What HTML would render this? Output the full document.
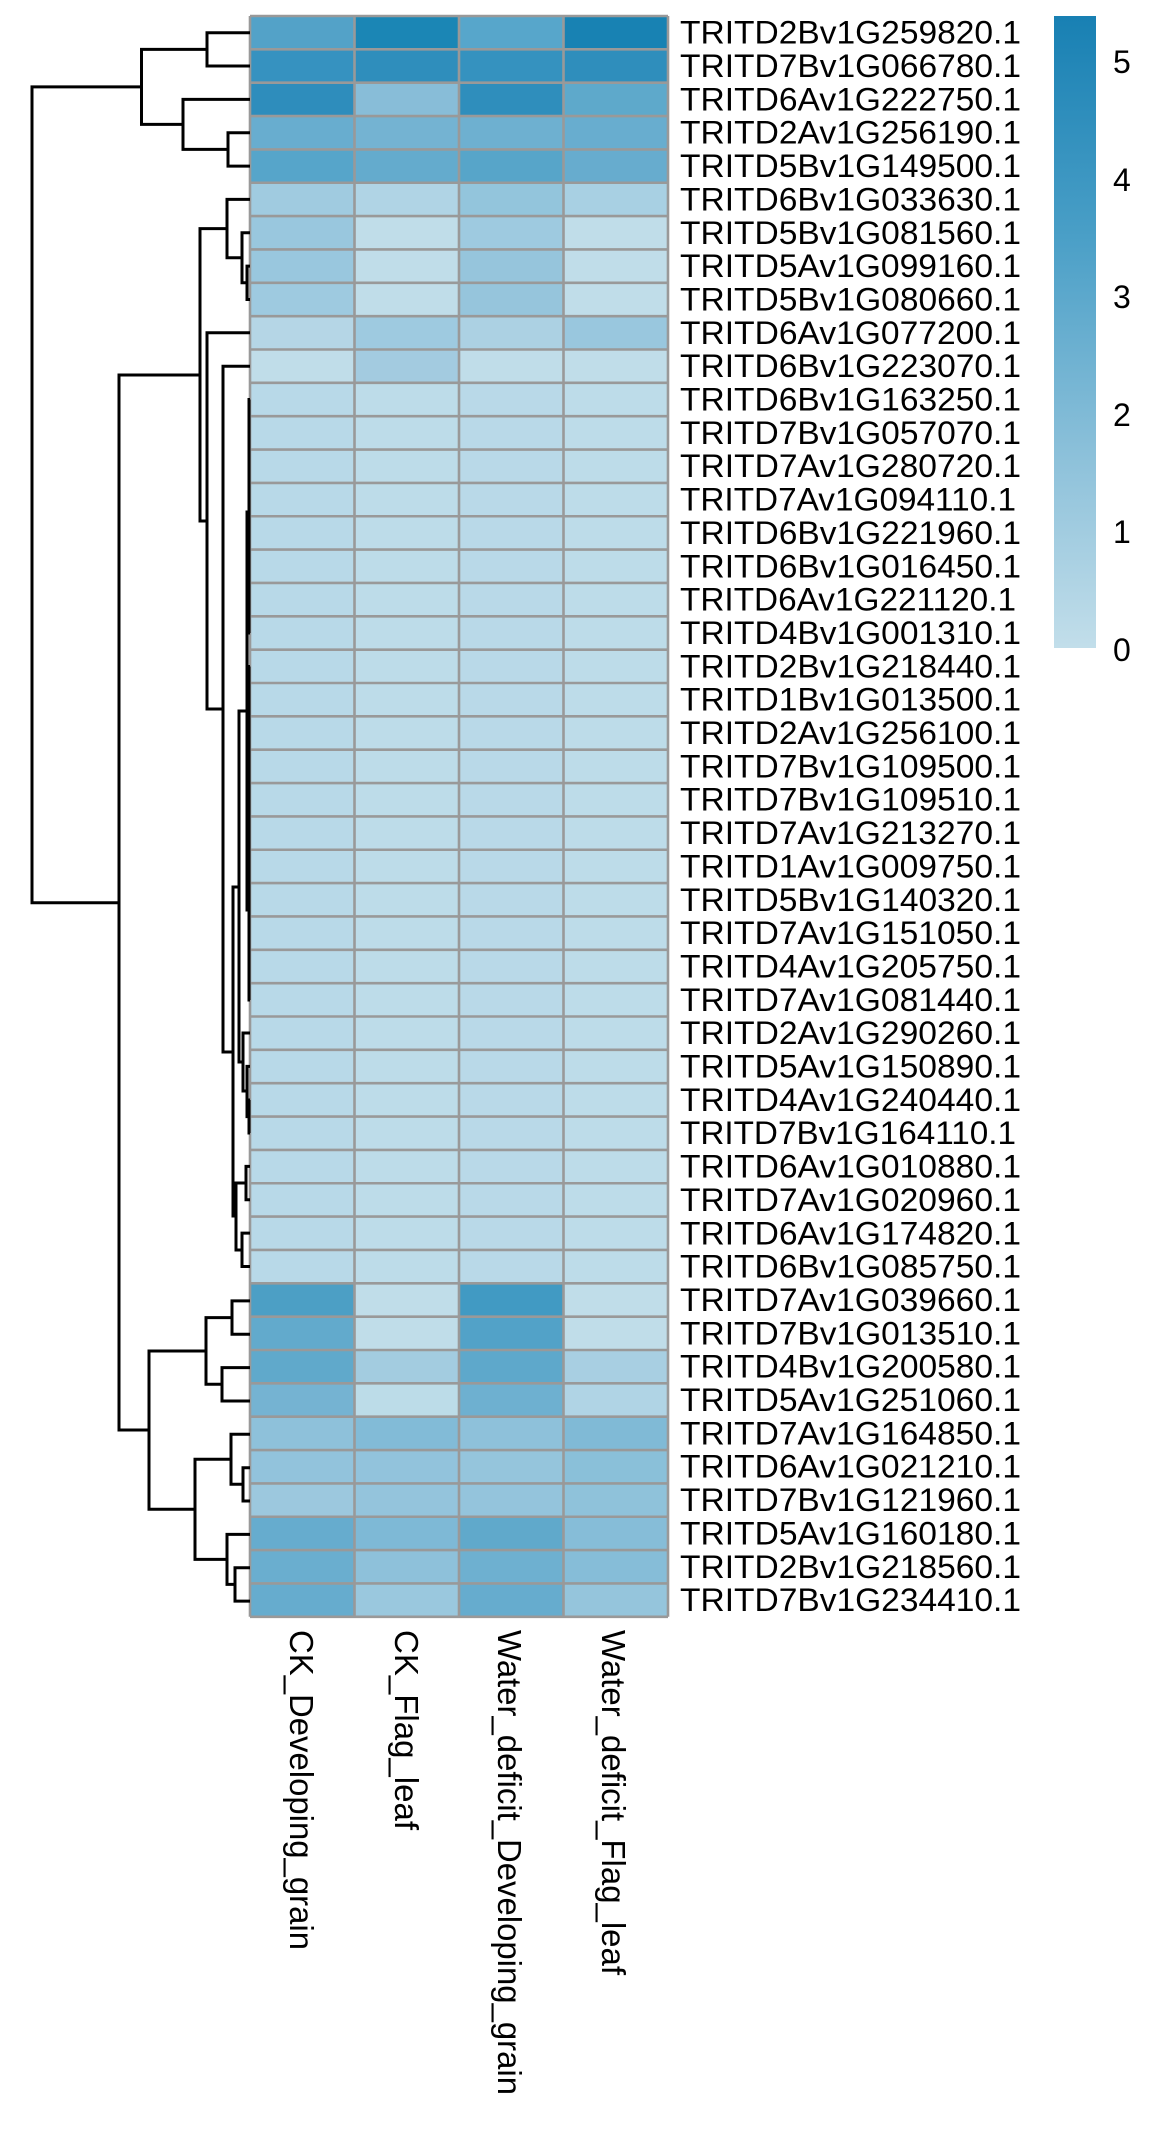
<!DOCTYPE html>
<html><head><meta charset="utf-8"><style>
html,body{margin:0;padding:0;background:#fff;}
svg{display:block;}
text{font-family:"Liberation Sans",Arial,sans-serif;fill:#000;}
</style></head><body>
<svg width="1170" height="2131" viewBox="0 0 1170 2131" xmlns="http://www.w3.org/2000/svg">
<defs>
<linearGradient id="cb" x1="0" y1="0" x2="0" y2="1">
<stop offset="0" stop-color="#1880b3"/>
<stop offset="0.35" stop-color="#4a9fc7"/>
<stop offset="0.7" stop-color="#8dc1da"/>
<stop offset="1" stop-color="#c2deea"/>
</linearGradient>
</defs>
<rect x="250" y="382.85" width="104.5" height="900.45" fill="#b8d9e8"/>
<rect x="354.5" y="382.85" width="104.5" height="900.45" fill="#bddce9"/>
<rect x="459" y="382.85" width="104.5" height="900.45" fill="#b9d9e8"/>
<rect x="563.5" y="382.85" width="104.5" height="900.45" fill="#bddce9"/>
<g>
<rect x="250" y="16" width="104.5" height="33.35" fill="#53a2c8"/><rect x="354.5" y="16" width="104.5" height="33.35" fill="#1b86b5"/><rect x="459" y="16" width="104.5" height="33.35" fill="#57a6cb"/><rect x="563.5" y="16" width="104.5" height="33.35" fill="#1882b3"/>
<rect x="250" y="49.35" width="104.5" height="33.35" fill="#3692c0"/><rect x="354.5" y="49.35" width="104.5" height="33.35" fill="#2f8ebc"/><rect x="459" y="49.35" width="104.5" height="33.35" fill="#3592bf"/><rect x="563.5" y="49.35" width="104.5" height="33.35" fill="#2f8ebc"/>
<rect x="250" y="82.7" width="104.5" height="33.35" fill="#2e8dbc"/><rect x="354.5" y="82.7" width="104.5" height="33.35" fill="#88bdd8"/><rect x="459" y="82.7" width="104.5" height="33.35" fill="#2f8ebc"/><rect x="563.5" y="82.7" width="104.5" height="33.35" fill="#5ea9cb"/>
<rect x="250" y="116.05" width="104.5" height="33.35" fill="#68adcf"/><rect x="354.5" y="116.05" width="104.5" height="33.35" fill="#74b3d2"/><rect x="459" y="116.05" width="104.5" height="33.35" fill="#6eb0d0"/><rect x="563.5" y="116.05" width="104.5" height="33.35" fill="#68adcf"/>
<rect x="250" y="149.4" width="104.5" height="33.35" fill="#56a5ca"/><rect x="354.5" y="149.4" width="104.5" height="33.35" fill="#64abcd"/><rect x="459" y="149.4" width="104.5" height="33.35" fill="#57a5c9"/><rect x="563.5" y="149.4" width="104.5" height="33.35" fill="#67acce"/>
<rect x="250" y="182.75" width="104.5" height="33.35" fill="#a0cbe0"/><rect x="354.5" y="182.75" width="104.5" height="33.35" fill="#b0d4e5"/><rect x="459" y="182.75" width="104.5" height="33.35" fill="#93c5dc"/><rect x="563.5" y="182.75" width="104.5" height="33.35" fill="#a8d0e3"/>
<rect x="250" y="216.1" width="104.5" height="33.35" fill="#99c7de"/><rect x="354.5" y="216.1" width="104.5" height="33.35" fill="#c0dde9"/><rect x="459" y="216.1" width="104.5" height="33.35" fill="#9ecae0"/><rect x="563.5" y="216.1" width="104.5" height="33.35" fill="#c0dde9"/>
<rect x="250" y="249.45" width="104.5" height="33.35" fill="#99c7de"/><rect x="354.5" y="249.45" width="104.5" height="33.35" fill="#c0dde9"/><rect x="459" y="249.45" width="104.5" height="33.35" fill="#96c5dc"/><rect x="563.5" y="249.45" width="104.5" height="33.35" fill="#c0dde9"/>
<rect x="250" y="282.8" width="104.5" height="33.35" fill="#9ecae0"/><rect x="354.5" y="282.8" width="104.5" height="33.35" fill="#c0dde9"/><rect x="459" y="282.8" width="104.5" height="33.35" fill="#96c5dc"/><rect x="563.5" y="282.8" width="104.5" height="33.35" fill="#c0dde9"/>
<rect x="250" y="316.15" width="104.5" height="33.35" fill="#b5d6e6"/><rect x="354.5" y="316.15" width="104.5" height="33.35" fill="#9ecae0"/><rect x="459" y="316.15" width="104.5" height="33.35" fill="#acd1e3"/><rect x="563.5" y="316.15" width="104.5" height="33.35" fill="#99c7de"/>
<rect x="250" y="349.5" width="104.5" height="33.35" fill="#c0dde9"/><rect x="354.5" y="349.5" width="104.5" height="33.35" fill="#a3cbe0"/><rect x="459" y="349.5" width="104.5" height="33.35" fill="#c0dde9"/><rect x="563.5" y="349.5" width="104.5" height="33.35" fill="#c0dde9"/>
<rect x="250" y="1283.3" width="104.5" height="33.35" fill="#4c9fc5"/><rect x="354.5" y="1283.3" width="104.5" height="33.35" fill="#c0dde9"/><rect x="459" y="1283.3" width="104.5" height="33.35" fill="#419ac3"/><rect x="563.5" y="1283.3" width="104.5" height="33.35" fill="#c0dde9"/>
<rect x="250" y="1316.65" width="104.5" height="33.35" fill="#62aacc"/><rect x="354.5" y="1316.65" width="104.5" height="33.35" fill="#c0dde9"/><rect x="459" y="1316.65" width="104.5" height="33.35" fill="#52a2c8"/><rect x="563.5" y="1316.65" width="104.5" height="33.35" fill="#c0dde9"/>
<rect x="250" y="1350" width="104.5" height="33.35" fill="#60a9cb"/><rect x="354.5" y="1350" width="104.5" height="33.35" fill="#a3cce0"/><rect x="459" y="1350" width="104.5" height="33.35" fill="#5ea8cb"/><rect x="563.5" y="1350" width="104.5" height="33.35" fill="#a8cfe2"/>
<rect x="250" y="1383.35" width="104.5" height="33.35" fill="#75b3d2"/><rect x="354.5" y="1383.35" width="104.5" height="33.35" fill="#bcdce8"/><rect x="459" y="1383.35" width="104.5" height="33.35" fill="#6eb0d0"/><rect x="563.5" y="1383.35" width="104.5" height="33.35" fill="#b0d4e5"/>
<rect x="250" y="1416.7" width="104.5" height="33.35" fill="#8ec1da"/><rect x="354.5" y="1416.7" width="104.5" height="33.35" fill="#82bbd7"/><rect x="459" y="1416.7" width="104.5" height="33.35" fill="#8ec1da"/><rect x="563.5" y="1416.7" width="104.5" height="33.35" fill="#80bad6"/>
<rect x="250" y="1450.05" width="104.5" height="33.35" fill="#92c3dc"/><rect x="354.5" y="1450.05" width="104.5" height="33.35" fill="#92c3dc"/><rect x="459" y="1450.05" width="104.5" height="33.35" fill="#95c5dc"/><rect x="563.5" y="1450.05" width="104.5" height="33.35" fill="#8ac0d9"/>
<rect x="250" y="1483.4" width="104.5" height="33.35" fill="#9cc8de"/><rect x="354.5" y="1483.4" width="104.5" height="33.35" fill="#94c4dc"/><rect x="459" y="1483.4" width="104.5" height="33.35" fill="#94c4dc"/><rect x="563.5" y="1483.4" width="104.5" height="33.35" fill="#8fc2da"/>
<rect x="250" y="1516.75" width="104.5" height="33.35" fill="#66acce"/><rect x="354.5" y="1516.75" width="104.5" height="33.35" fill="#7eb9d6"/><rect x="459" y="1516.75" width="104.5" height="33.35" fill="#60a9cb"/><rect x="563.5" y="1516.75" width="104.5" height="33.35" fill="#86bdd8"/>
<rect x="250" y="1550.1" width="104.5" height="33.35" fill="#6aaecf"/><rect x="354.5" y="1550.1" width="104.5" height="33.35" fill="#8ec1da"/><rect x="459" y="1550.1" width="104.5" height="33.35" fill="#6eb0d0"/><rect x="563.5" y="1550.1" width="104.5" height="33.35" fill="#86bdd8"/>
<rect x="250" y="1583.45" width="104.5" height="33.35" fill="#66acce"/><rect x="354.5" y="1583.45" width="104.5" height="33.35" fill="#9ac8de"/><rect x="459" y="1583.45" width="104.5" height="33.35" fill="#66acce"/><rect x="563.5" y="1583.45" width="104.5" height="33.35" fill="#95c5dc"/>
</g>
<g stroke="#999" stroke-width="2.6" fill="none">
<path d="M250 16V1616.8M354.5 16V1616.8M459 16V1616.8M563.5 16V1616.8M668 16V1616.8"/>
<path d="M250 16H668M250 49.35H668M250 82.7H668M250 116.05H668M250 149.4H668M250 182.75H668M250 216.1H668M250 249.45H668M250 282.8H668M250 316.15H668M250 349.5H668M250 382.85H668M250 416.2H668M250 449.55H668M250 482.9H668M250 516.25H668M250 549.6H668M250 582.95H668M250 616.3H668M250 649.65H668M250 683H668M250 716.35H668M250 749.7H668M250 783.05H668M250 816.4H668M250 849.75H668M250 883.1H668M250 916.45H668M250 949.8H668M250 983.15H668M250 1016.5H668M250 1049.85H668M250 1083.2H668M250 1116.55H668M250 1149.9H668M250 1183.25H668M250 1216.6H668M250 1249.95H668M250 1283.3H668M250 1316.65H668M250 1350H668M250 1383.35H668M250 1416.7H668M250 1450.05H668M250 1483.4H668M250 1516.75H668M250 1550.1H668M250 1583.45H668M250 1616.8H668"/>
</g>
<g stroke="#000" stroke-width="3" fill="none">
<path d="M141.5 86.9H32V902.7H119"/>
<path d="M207 49.4H141.5V124.4H183"/>
<path d="M250 32.7H207V66H250"/>
<path d="M250 99.4H183V149.4H228"/>
<path d="M250 132.7H228V166.1H250"/>
<path d="M200 375H119V1430H149"/>
<path d="M227 228.6H200V521H207"/>
<path d="M250 199.4H227V257.8H242"/>
<path d="M250 232.8H242V282.8H247"/>
<path d="M250 266.1H247V299.5H250"/>
<path d="M250 332.8H207V709H223"/>
<path d="M250 366.2H223V1052H233"/>
<path d="M239 887H233V1216H236"/>
<path d="M247 711H239V1062H243"/>
<path d="M249 512H247V910H249"/>
<path d="M250 399.5H249V633H250"/>
<path d="M250 666.5H249V1000H250"/>
<path d="M250 1033H243V1091H247"/>
<path d="M250 1066.4H247V1116.6H249"/>
<path d="M250 1100H249V1133H250"/>
<path d="M246 1183H236V1250H242"/>
<path d="M250 1166.4H246V1199.8H250"/>
<path d="M250 1233.1H242V1266.5H250"/>
<path d="M206 1351H149V1509.3H195"/>
<path d="M232 1317.6H206V1384.3H222"/>
<path d="M250 1300.9H232V1334.3H250"/>
<path d="M250 1367.6H222V1401H250"/>
<path d="M231 1459.3H195V1559.4H227"/>
<path d="M250 1434.3H231V1484.3H243"/>
<path d="M250 1467.7H243V1501H250"/>
<path d="M250 1534.4H227V1584.4H235"/>
<path d="M250 1567.7H235V1601.1H250"/>
</g>
<g font-size="32" >
<text x="680" y="43.7" textLength="341" lengthAdjust="spacingAndGlyphs">TRITD2Bv1G259820.1</text>
<text x="680" y="77" textLength="341" lengthAdjust="spacingAndGlyphs">TRITD7Bv1G066780.1</text>
<text x="680" y="110.4" textLength="341" lengthAdjust="spacingAndGlyphs">TRITD6Av1G222750.1</text>
<text x="680" y="143.7" textLength="341" lengthAdjust="spacingAndGlyphs">TRITD2Av1G256190.1</text>
<text x="680" y="177.1" textLength="341" lengthAdjust="spacingAndGlyphs">TRITD5Bv1G149500.1</text>
<text x="680" y="210.4" textLength="341" lengthAdjust="spacingAndGlyphs">TRITD6Bv1G033630.1</text>
<text x="680" y="243.8" textLength="341" lengthAdjust="spacingAndGlyphs">TRITD5Bv1G081560.1</text>
<text x="680" y="277.1" textLength="341" lengthAdjust="spacingAndGlyphs">TRITD5Av1G099160.1</text>
<text x="680" y="310.5" textLength="341" lengthAdjust="spacingAndGlyphs">TRITD5Bv1G080660.1</text>
<text x="680" y="343.8" textLength="341" lengthAdjust="spacingAndGlyphs">TRITD6Av1G077200.1</text>
<text x="680" y="377.2" textLength="341" lengthAdjust="spacingAndGlyphs">TRITD6Bv1G223070.1</text>
<text x="680" y="410.5" textLength="341" lengthAdjust="spacingAndGlyphs">TRITD6Bv1G163250.1</text>
<text x="680" y="443.9" textLength="341" lengthAdjust="spacingAndGlyphs">TRITD7Bv1G057070.1</text>
<text x="680" y="477.2" textLength="341" lengthAdjust="spacingAndGlyphs">TRITD7Av1G280720.1</text>
<text x="680" y="510.6" textLength="336" lengthAdjust="spacingAndGlyphs">TRITD7Av1G094110.1</text>
<text x="680" y="543.9" textLength="341" lengthAdjust="spacingAndGlyphs">TRITD6Bv1G221960.1</text>
<text x="680" y="577.3" textLength="341" lengthAdjust="spacingAndGlyphs">TRITD6Bv1G016450.1</text>
<text x="680" y="610.6" textLength="336" lengthAdjust="spacingAndGlyphs">TRITD6Av1G221120.1</text>
<text x="680" y="644" textLength="341" lengthAdjust="spacingAndGlyphs">TRITD4Bv1G001310.1</text>
<text x="680" y="677.3" textLength="341" lengthAdjust="spacingAndGlyphs">TRITD2Bv1G218440.1</text>
<text x="680" y="710.7" textLength="341" lengthAdjust="spacingAndGlyphs">TRITD1Bv1G013500.1</text>
<text x="680" y="744" textLength="341" lengthAdjust="spacingAndGlyphs">TRITD2Av1G256100.1</text>
<text x="680" y="777.4" textLength="341" lengthAdjust="spacingAndGlyphs">TRITD7Bv1G109500.1</text>
<text x="680" y="810.7" textLength="341" lengthAdjust="spacingAndGlyphs">TRITD7Bv1G109510.1</text>
<text x="680" y="844.1" textLength="341" lengthAdjust="spacingAndGlyphs">TRITD7Av1G213270.1</text>
<text x="680" y="877.4" textLength="341" lengthAdjust="spacingAndGlyphs">TRITD1Av1G009750.1</text>
<text x="680" y="910.8" textLength="341" lengthAdjust="spacingAndGlyphs">TRITD5Bv1G140320.1</text>
<text x="680" y="944.1" textLength="341" lengthAdjust="spacingAndGlyphs">TRITD7Av1G151050.1</text>
<text x="680" y="977.5" textLength="341" lengthAdjust="spacingAndGlyphs">TRITD4Av1G205750.1</text>
<text x="680" y="1010.8" textLength="341" lengthAdjust="spacingAndGlyphs">TRITD7Av1G081440.1</text>
<text x="680" y="1044.2" textLength="341" lengthAdjust="spacingAndGlyphs">TRITD2Av1G290260.1</text>
<text x="680" y="1077.5" textLength="341" lengthAdjust="spacingAndGlyphs">TRITD5Av1G150890.1</text>
<text x="680" y="1110.9" textLength="341" lengthAdjust="spacingAndGlyphs">TRITD4Av1G240440.1</text>
<text x="680" y="1144.2" textLength="336" lengthAdjust="spacingAndGlyphs">TRITD7Bv1G164110.1</text>
<text x="680" y="1177.6" textLength="341" lengthAdjust="spacingAndGlyphs">TRITD6Av1G010880.1</text>
<text x="680" y="1210.9" textLength="341" lengthAdjust="spacingAndGlyphs">TRITD7Av1G020960.1</text>
<text x="680" y="1244.3" textLength="341" lengthAdjust="spacingAndGlyphs">TRITD6Av1G174820.1</text>
<text x="680" y="1277.6" textLength="341" lengthAdjust="spacingAndGlyphs">TRITD6Bv1G085750.1</text>
<text x="680" y="1311" textLength="341" lengthAdjust="spacingAndGlyphs">TRITD7Av1G039660.1</text>
<text x="680" y="1344.3" textLength="341" lengthAdjust="spacingAndGlyphs">TRITD7Bv1G013510.1</text>
<text x="680" y="1377.7" textLength="341" lengthAdjust="spacingAndGlyphs">TRITD4Bv1G200580.1</text>
<text x="680" y="1411" textLength="341" lengthAdjust="spacingAndGlyphs">TRITD5Av1G251060.1</text>
<text x="680" y="1444.4" textLength="341" lengthAdjust="spacingAndGlyphs">TRITD7Av1G164850.1</text>
<text x="680" y="1477.7" textLength="341" lengthAdjust="spacingAndGlyphs">TRITD6Av1G021210.1</text>
<text x="680" y="1511.1" textLength="341" lengthAdjust="spacingAndGlyphs">TRITD7Bv1G121960.1</text>
<text x="680" y="1544.4" textLength="341" lengthAdjust="spacingAndGlyphs">TRITD5Av1G160180.1</text>
<text x="680" y="1577.8" textLength="341" lengthAdjust="spacingAndGlyphs">TRITD2Bv1G218560.1</text>
<text x="680" y="1611.1" textLength="341" lengthAdjust="spacingAndGlyphs">TRITD7Bv1G234410.1</text>
</g>
<g font-size="33">
<text transform="translate(290,1630) rotate(90)" textLength="320" lengthAdjust="spacingAndGlyphs">CK_Developing_grain</text>
<text transform="translate(395,1630) rotate(90)" textLength="200" lengthAdjust="spacingAndGlyphs">CK_Flag_leaf</text>
<text transform="translate(498,1630) rotate(90)" textLength="465" lengthAdjust="spacingAndGlyphs">Water_deficit_Developing_grain</text>
<text transform="translate(602,1630) rotate(90)" textLength="345" lengthAdjust="spacingAndGlyphs">Water_deficit_Flag_leaf</text>
</g>
<rect x="1054" y="16" width="42" height="632" fill="url(#cb)"/>
<g font-size="32">
<text x="1113" y="73">5</text>
<text x="1113" y="191">4</text>
<text x="1113" y="308">3</text>
<text x="1113" y="426">2</text>
<text x="1113" y="543">1</text>
<text x="1113" y="661">0</text>
</g>
</svg>
</body></html>
